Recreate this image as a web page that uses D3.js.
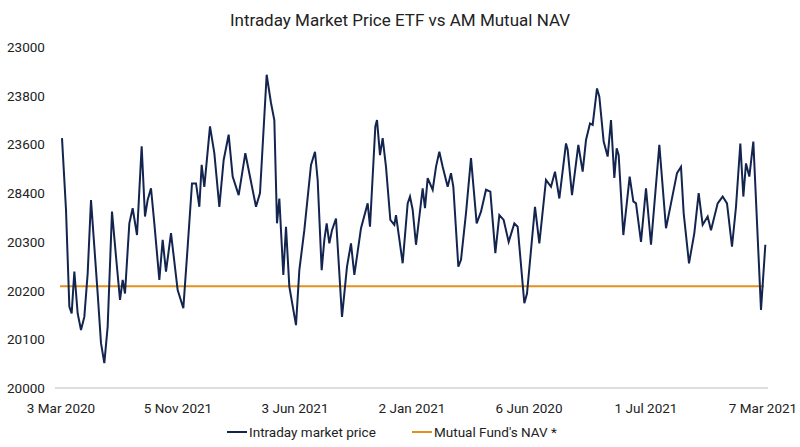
<!DOCTYPE html>
<html><head><meta charset="utf-8">
<script src="https://cdn.jsdelivr.net/npm/d3@7"></script>
<style>body{margin:0;background:#fff}text{font-family:Roboto,sans-serif}</style>
</head><body><svg id="c" width="800" height="447"></svg>
<script>
const yTickLabels = ["20000","20100","20200","20300","28400","23600","23800","23000"]
const xTickLabels = ["3 Mar 2020","5 Nov 2021","3 Jun 2021","2 Jan 2021","6 Jun 2020","1 Jul 2021","7 Mar 2021"]
// time index (0..2106 spans the axis) and price, in grid-level units
const priceT = [3,15,25,32,40,50,60,70,80,90,100,110,120,130,140,153,165,177,185,192,205,215,228,242,252,260,270,280,295,305,315,330,350,367,380,393,405,415,422,430,447,460,475,488,503,515,533,553,585,597,617,630,640,648,655,667,675,685,705,715,730,750,762,770,782,790,797,805,813,825,843,858,870,880,900,920,927,943,948,957,965,975,988,1000,1005,1025,1040,1047,
  1055,1065,1085,1092,1100,1115,1125,1135,1145,1160,1170,1177,1192,1200,1215,1230,1247,1260,1275,1288,1303,1315,1328,1343,1360,1370,1390,1398,1422,1435,1455,1470,1482,1495,1515,1520,1533,1552,1565,1575,1587,1595,1608,1615,1628,1640,1650,1660,1667,1673,1687,1706,1717,1725,1740,1755,1770,1795,1815,1830,1848,1860,1868,1884,1900,1913,1925,1940,1950,1970,1985,1998,2013,2025,2038,2047,2055,2065,2077,2100,2113]
const priceV = [5.13,3.66,1.67,1.53,2.39,1.53,1.19,1.46,2.35,3.86,2.90,1.94,0.92,0.51,1.26,3.62,2.70,1.81,2.22,1.94,3.38,3.69,3.14,4.96,3.52,3.86,4.10,3.38,2.22,3.04,2.39,3.18,2.01,1.64,2.90,4.20,4.20,3.72,4.58,4.13,5.37,4.82,3.72,4.68,5.20,4.34,3.96,4.82,3.72,4.00,6.43,5.85,5.50,3.38,3.89,2.32,3.31,2.08,1.29,2.42,3.24,4.58,4.85,4.27,2.42,3.04,3.38,2.97,3.24,3.48,1.46,2.49,2.97,2.32,3.28,3.79,3.31,5.37,5.50,4.78,5.13,4.54,3.45,3.35,3.55,2.56,3.79,3.93,
  3.66,2.94,4.10,3.69,4.31,4.07,4.54,4.85,4.54,4.13,4.41,4.13,2.49,2.63,3.59,4.72,3.38,3.62,4.07,4.03,2.77,3.55,3.45,3.00,3.38,3.31,1.74,1.94,3.72,2.97,4.27,4.13,4.44,3.89,5.02,4.89,3.96,4.99,4.44,5.09,5.43,5.40,6.15,5.98,5.06,4.75,5.50,4.31,4.92,4.78,3.14,4.34,3.83,3.79,3.00,4.10,2.94,4.99,3.28,3.79,4.41,4.54,3.59,2.56,3.18,4.00,3.35,3.52,3.24,3.79,3.93,3.79,2.90,3.72,5.02,3.93,4.61,4.34,5.06,1.60,2.94]
const navLevel = 2.09
const seriesNames = ["Intraday market price","Mutual Fund's NAV *"]

const svg = d3.select("#c")
const x = d3.scaleLinear().domain([0, 2106]).range([61, 763])
const y = d3.scaleLinear().domain([0, 7]).range([388, 47])
const xl = d3.scalePoint().domain(xTickLabels).range([61, 763])

svg.append("text").attr("x", 400).attr("y", 26).attr("text-anchor", "middle")
  .attr("font-size", 17).attr("fill", "#222").text("Intraday Market Price ETF vs AM Mutual NAV")

svg.selectAll(".yl").data(yTickLabels).join("text")
  .attr("x", 7).attr("y", (d, i) => y(i) + 5).attr("font-size", 13.5).attr("fill", "#222").text(d => d)

svg.append("line").attr("x1", 55).attr("x2", 768).attr("y1", 388).attr("y2", 388).attr("stroke", "#bbb")

svg.selectAll(".xl").data(xTickLabels).join("text")
  .attr("x", d => xl(d)).attr("y", 413).attr("text-anchor", "middle")
  .attr("font-size", 13.5).attr("fill", "#222").text(d => d)

svg.append("line").attr("x1", 60).attr("x2", 764).attr("y1", y(navLevel)).attr("y2", y(navLevel))
  .attr("stroke", "#e0921c").attr("stroke-width", 2)

const line = d3.line().x(d => x(d[0])).y(d => y(d[1])).curve(d3.curveLinear)
svg.append("path").datum(d3.zip(priceT, priceV)).attr("d", line)
  .attr("fill", "none").attr("stroke", "#13244f").attr("stroke-width", 2)

const leg = [{n: seriesNames[0], c: "#13244f", x: 227}, {n: seriesNames[1], c: "#e0921c", x: 412}]
leg.forEach(l => {
  svg.append("line").attr("x1", l.x).attr("x2", l.x + 20).attr("y1", 432).attr("y2", 432)
    .attr("stroke", l.c).attr("stroke-width", 2)
  svg.append("text").attr("x", l.x + 22).attr("y", 437).attr("font-size", 13.5).attr("fill", "#222").text(l.n)
})
</script></body></html>
